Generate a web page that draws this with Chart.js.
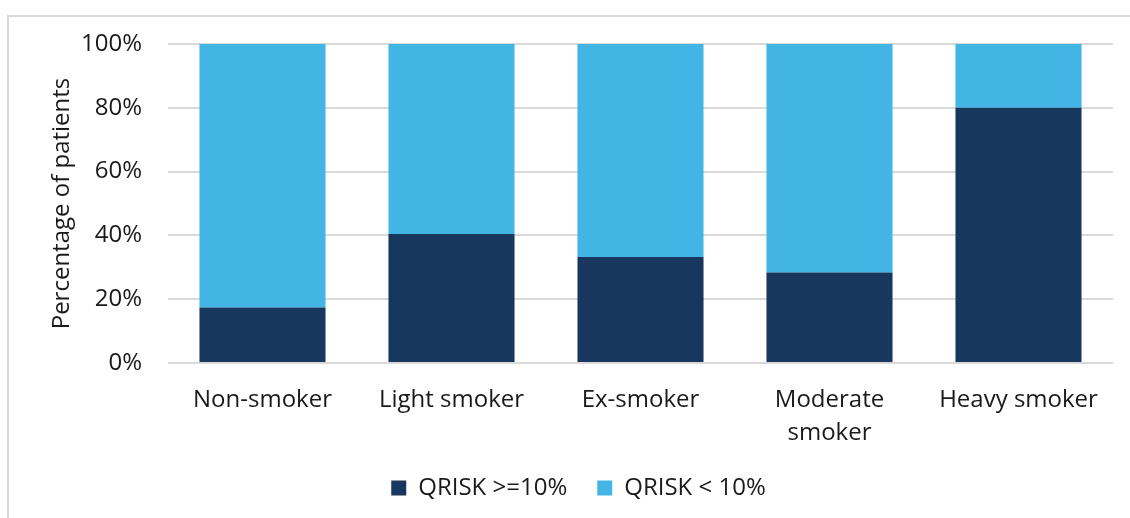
<!DOCTYPE html>
<html>
<head>
<meta charset="utf-8">
<script src="https://cdn.jsdelivr.net/npm/chart.js@4/dist/chart.umd.min.js"></script>
<style>
  html, body { margin: 0; padding: 0; background: #fff; }
  #frame { position: absolute; left: 7px; top: 15px; width: 1130px; height: 520px;
           border-left: 2px solid #d9d9d9; border-top: 2px solid #d9d9d9; }
  #wrap { position: absolute; left: 0; top: 0; width: 1130px; height: 518px; }
</style>
</head>
<body>
<div id="frame"></div>
<div id="wrap"><canvas id="myChart" width="1130" height="518"></canvas></div>
<script>
const categories = ['Non-smoker', 'Light smoker', 'Ex-smoker', ['Moderate', 'smoker'], 'Heavy smoker']
const qriskHigh = [17.4, 40.4, 33.2, 28.4, 80.0]
const qriskLow = [82.6, 59.6, 66.8, 71.6, 20.0]
const yTicks = [0, 20, 40, 60, 80, 100]

const font = { family: "'Open Sans', 'DejaVu Sans', sans-serif", size: 24 }
const textColor = '#1a1a1a'

function renderChart() {
  const ctx = document.getElementById('myChart')

  const myChart = new Chart(ctx, {
    type: 'bar',
    data: {
      labels: categories,
      datasets: [{
        label: 'QRISK >=10%',
        data: qriskHigh,
        backgroundColor: '#17375e',
        borderWidth: 0
      }, {
        label: 'QRISK < 10%',
        data: qriskLow,
        backgroundColor: '#43b5e5',
        borderWidth: 0
      }]
    },
    options: {
      responsive: false,
      animation: false,
      categoryPercentage: 1,
      barPercentage: 0.667,
      layout: { padding: { left: 44, top: 44, right: 17, bottom: 8 } },
      plugins: {
        tooltip: { enabled: false },
        legend: {
          position: 'bottom',
          labels: {
            font: font,
            color: textColor,
            boxWidth: 15,
            boxHeight: 15,
            padding: 30
          }
        }
      },
      scales: {
        x: {
          stacked: true,
          grid: { display: false, drawTicks: false },
          border: { display: false },
          ticks: { font: { ...font, lineHeight: 1.4 }, color: textColor, padding: 20, maxRotation: 0, autoSkip: false },
          afterFit: scale => { scale.height = 83 }
        },
        y: {
          stacked: true,
          min: 0,
          max: 100,
          afterBuildTicks: scale => { scale.ticks = yTicks.map(v => ({ value: v })) },
          grid: { color: '#d9d9d9', lineWidth: 2, drawTicks: false },
          border: { display: false },
          ticks: { font: font, color: textColor, padding: 26, callback: v => v + '%' },
          title: { display: true, text: 'Percentage of patients', font: font, color: textColor, padding: { top: 4, bottom: 0 } },
          afterFit: scale => { scale.width = 124 }
        }
      }
    }
  })
}

renderChart()
</script>
</body>
</html>
